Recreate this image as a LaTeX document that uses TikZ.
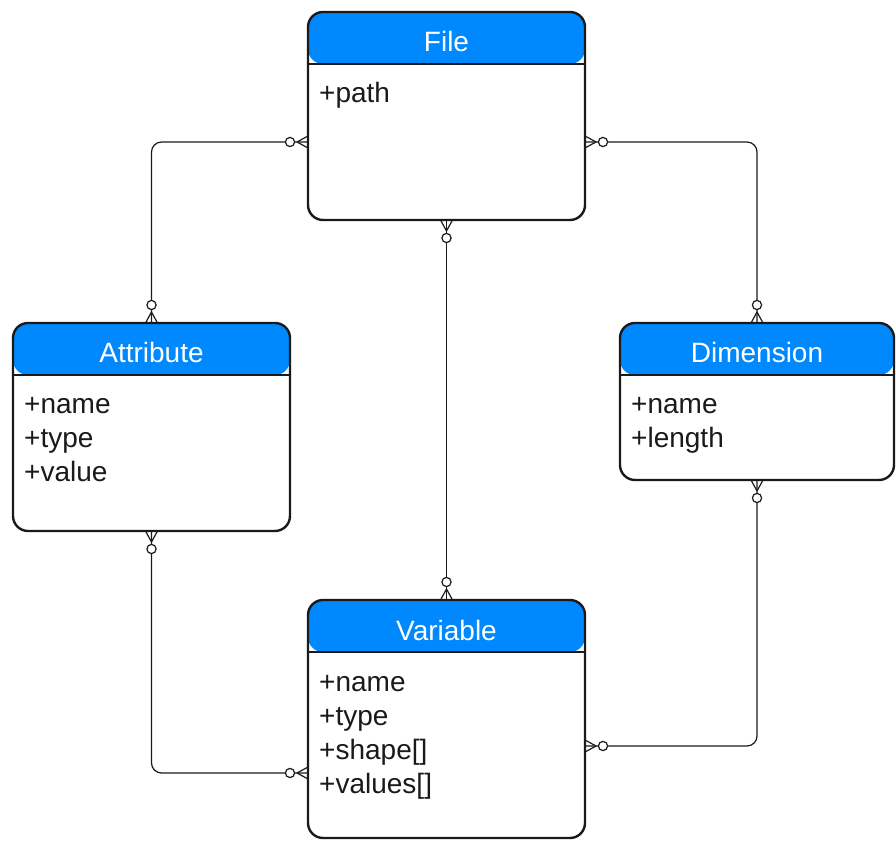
\documentclass[tikz,border=0pt]{standalone}
\usepackage{fontspec}
\setmainfont{Liberation Sans}
\usetikzlibrary{calc}
\definecolor{hdr}{HTML}{0088FF}
\definecolor{ink}{HTML}{1A1A1A}
\tikzset{
  entity/.style={draw=ink, line width=2.4pt, rounded corners=15pt, fill=white,
    outer sep=0pt, inner sep=0pt,
    path picture={\fill[hdr] ([yshift=-52pt]path picture bounding box.north west)
      rectangle (path picture bounding box.north east);}},
  entitytitle/.style={anchor=base, text=white, inner sep=0pt,
    font=\fontsize{28}{34}\selectfont},
  field/.style={anchor=base west, text=ink, inner sep=0pt,
    font=\fontsize{28}{34}\selectfont},
  conn/.style={draw=ink, line width=1.2pt},
  % zero-or-many end: crow's foot at the box, open circle further out
  zeromany/.pic={
    \draw[conn] (11pt,0) -- (0,6pt) (11pt,0) -- (0,-6pt);
    \draw[conn, fill=white] (18pt,0) circle (4.6pt);
  }
}
% entity box: name, centre x, centre y, width, height, title
\newcommand\erentity[6]{%
  \node[entity, minimum width=#4pt, minimum height=#5pt] (#1) at (#2,#3) {};
  \draw[ink, line width=2.4pt] ([yshift=-52pt]#1.north west) -- ([yshift=-52pt]#1.north east);
  \node[entitytitle] (#1-title) at ([yshift=-40pt]#1.north) {#6};
}
% attribute lines of an entity box
\newcommand\erfields[2]{%
  \foreach \t [count=\i] in {#2} {
    \pgfmathsetmacro\dy{-91-(\i-1)*34}
    \node[field] (#1-f\i) at ([xshift=11pt, yshift=\dy pt]#1.north west) {\t};
  }
}
\begin{document}
\begin{tikzpicture}[x=1pt, y=1pt]
  \useasboundingbox (0,0) rectangle (896,841);

  \erentity{file}{446.5}{725}{277}{208}{File}
  \erfields{file}{+path}
  \erentity{attr}{151.5}{414}{277}{208}{Attribute}
  \erfields{attr}{+name, +type, +value}
  \erentity{dim}{757}{439.5}{274}{157}{Dimension}
  \erfields{dim}{+name, +length}
  \erentity{var}{446.5}{122}{277}{238}{Variable}
  \erfields{var}{+name, +type, {+shape[]}, {+values[]}}

  % connector attachment points on box sides
  \coordinate (fileW) at ([yshift=-26pt]file.west);
  \coordinate (fileE) at ([yshift=-26pt]file.east);
  \coordinate (varW) at ([yshift=-54pt]var.west);
  \coordinate (varE) at ([yshift=-27pt]var.east);

  \begin{scope}[conn, rounded corners=10pt]
    \draw (fileW) -| (attr.north);
    \draw (fileE) -| (dim.north);
    \draw (file.south) -- (var.north);
    \draw (attr.south) |- (varW);
    \draw (dim.south) |- (varE);
  \end{scope}

  \pic[rotate=180] at (fileW) {zeromany};
  \pic[rotate=90] at (attr.north) {zeromany};
  \pic at (fileE) {zeromany};
  \pic[rotate=90] at (dim.north) {zeromany};
  \pic[rotate=-90] at (file.south) {zeromany};
  \pic[rotate=90] at (var.north) {zeromany};
  \pic[rotate=-90] at (attr.south) {zeromany};
  \pic[rotate=180] at (varW) {zeromany};
  \pic[rotate=-90] at (dim.south) {zeromany};
  \pic at (varE) {zeromany};
\end{tikzpicture}
\end{document}
